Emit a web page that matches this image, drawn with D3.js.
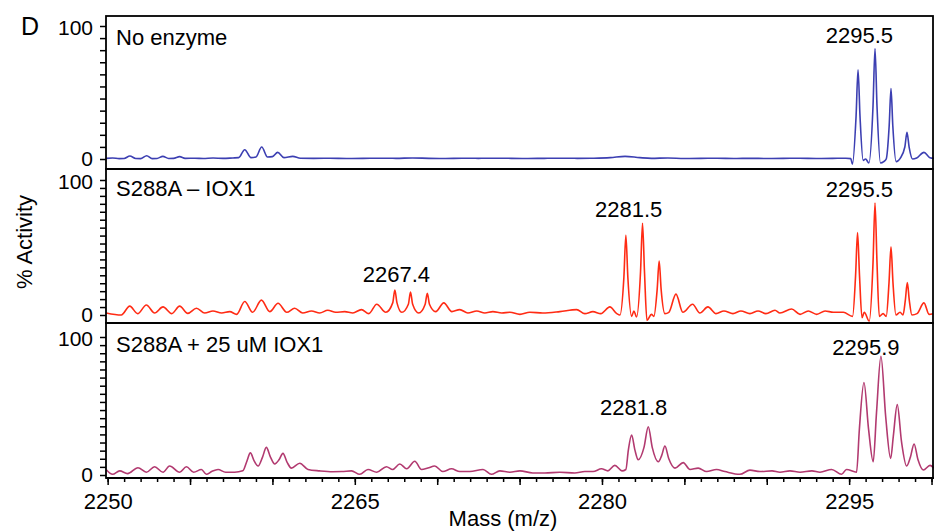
<!DOCTYPE html>
<html>
<head>
<meta charset="utf-8">
<script src="https://cdnjs.cloudflare.com/ajax/libs/d3/7.8.5/d3.min.js"></script>
<style>
  body { margin: 0; background: #fff; }
  svg { font-family: "Liberation Sans", Arial, sans-serif; }
</style>
</head>
<body>
<div id="chart"></div>
<script>
// spectra: [mass, % activity]
var noEnzyme = [
  [2249.9, 0.5], [2250.3, 0.8], [2250.7, 0.3], [2251.0, 0.4], [2251.35, 2.2], [2251.7, 0.4],
  [2252.0, 0.3], [2252.37, 2.5], [2252.7, 0.3], [2253.0, 0.4], [2253.35, 2.0], [2253.7, 0.4],
  [2254.0, 0.5], [2254.37, 1.8], [2254.7, 0.5], [2255.3, 0.6], [2255.8, 0.4], [2256.4, 0.7],
  [2257.0, 0.5], [2257.6, 0.8], [2257.95, 1.0], [2258.32, 7.0], [2258.7, 1.0], [2259.0, 1.5],
  [2259.35, 9.0], [2259.7, 1.5], [2260.0, 1.8], [2260.32, 5.0], [2260.7, 1.0], [2261.23, 2.0],
  [2261.7, 0.6], [2262.5, 0.5], [2263.5, 0.6], [2264.5, 0.4], [2265.5, 0.5], [2266.5, 0.6],
  [2267.5, 0.5], [2268.5, 0.8], [2269.5, 0.5], [2270.5, 0.4], [2271.5, 0.6], [2272.5, 0.5],
  [2273.5, 0.6], [2274.5, 0.5], [2275.5, 0.4], [2276.5, 0.5], [2277.5, 0.6], [2278.5, 0.5],
  [2279.5, 0.6], [2280.5, 1.0], [2281.4, 2.0], [2282.3, 1.0], [2283.0, 0.5], [2284.0, 0.8],
  [2285.0, 0.4], [2286.0, 0.5], [2287.0, 0.6], [2288.0, 0.4], [2289.0, 0.5], [2290.0, 0.4],
  [2291.0, 0.5], [2292.0, 0.6], [2293.0, 0.4], [2294.0, 0.5], [2294.8, 0.6], [2295.1, 0.3],
  [2295.2, -4], [2295.42, 32], [2295.54, 67], [2295.66, 32], [2295.85, -1], [2296.0, 0],
  [2296.2, -3], [2296.45, 40], [2296.57, 83], [2296.69, 40], [2296.9, -3], [2297.1, -2],
  [2297.25, 0], [2297.43, 25], [2297.54, 53], [2297.65, 25], [2297.85, -2], [2298.1, 0.5],
  [2298.38, 9], [2298.51, 20], [2298.64, 9], [2298.85, 0], [2299.1, 0.8], [2299.54, 5],
  [2299.9, 1], [2300.15, 0.5]
];

var minusIOX1 = [
  [2249.92, 1.5], [2250.83, 0], [2251.34, 6.6], [2251.82, 1], [2252.35, 7.4], [2252.85, 1.5],
  [2253.36, 6], [2253.89, 1], [2254.37, 6.6], [2254.86, 1.2], [2255.39, 5], [2255.89, 1.5],
  [2256.39, 3], [2256.92, 1.5], [2257.41, 2.5], [2257.83, 0.5], [2258.32, 10], [2258.8, 2],
  [2259.33, 11], [2259.84, 2.5], [2260.34, 8.7], [2260.87, 2], [2261.35, 5], [2261.84, 1.5],
  [2262.37, 3], [2262.87, 1.5], [2263.36, 3.5], [2263.84, 2], [2264.39, 2.5], [2264.88, 1.5],
  [2265.4, 4], [2265.85, 1], [2266.33, 8], [2266.88, 2], [2267.3, 9], [2267.43, 18.5],
  [2267.56, 9], [2267.85, 2], [2268.25, 8], [2268.38, 17], [2268.51, 8], [2268.88, 1.5],
  [2269.27, 8], [2269.4, 16], [2269.53, 8], [2269.91, 2.5], [2270.4, 9], [2270.89, 2.5],
  [2271.37, 4], [2271.86, 1.5], [2272.4, 3], [2272.89, 1.5], [2273.38, 2.5], [2273.92, 1.5],
  [2274.41, 2], [2275.02, 0.5], [2275.62, 2], [2276.41, 1.5], [2277.44, 2.5], [2278.46, 4],
  [2278.96, 1], [2279.45, 2.5], [2279.93, 1], [2280.48, 6], [2280.9, 1], [2281.09, 0],
  [2281.33, 28], [2281.45, 59], [2281.57, 28], [2281.8, -1], [2281.94, 3], [2282.1, -1.5],
  [2282.34, 32], [2282.46, 68], [2282.58, 32], [2282.73, -4], [2283.0, 0.5], [2283.15, -1],
  [2283.35, 19], [2283.47, 40], [2283.59, 19], [2283.82, 1], [2284.06, 2], [2284.49, 15.5],
  [2284.91, 2], [2285.5, 8], [2285.94, 1.5], [2286.43, 6], [2286.92, 1], [2287.4, 3],
  [2287.95, 1], [2288.43, 3], [2288.98, 1], [2289.47, 3], [2289.95, 1], [2290.5, 3.5],
  [2290.8, 1.5], [2291.51, 4.5], [2292.02, 0.5], [2292.52, 3], [2293.03, 0.5], [2293.54, 3],
  [2294.04, 2], [2294.65, 2], [2295.21, -1], [2295.39, 29], [2295.51, 61], [2295.63, 29],
  [2295.78, -2], [2295.92, 2], [2296.22, -4.5], [2296.45, 39], [2296.57, 83], [2296.69, 39],
  [2296.83, -1], [2297.06, 1], [2297.25, -1], [2297.42, 24], [2297.54, 50.6], [2297.66, 24],
  [2297.84, 0], [2298.09, 2], [2298.27, 0], [2298.41, 11], [2298.53, 24], [2298.65, 11],
  [2298.81, 0], [2299.12, 1], [2299.54, 9], [2299.85, 0.5], [2300.09, 1]
];

var plusIOX1 = [
  [2249.92, 3.8], [2250.3, 0.5], [2250.73, 3], [2251.21, 1], [2251.84, 5.3], [2252.35, 2],
  [2252.85, 6], [2253.36, 2], [2253.76, 6.5], [2254.37, 2], [2254.78, 6], [2255.22, 2],
  [2255.69, 4], [2255.99, 0.5], [2256.31, 2.5], [2256.7, 4], [2257.16, 2], [2257.71, 2],
  [2258.2, 3], [2258.45, 10], [2258.66, 16], [2258.9, 10], [2259.13, 6.5], [2259.4, 13],
  [2259.63, 20], [2259.88, 13], [2260.14, 8], [2260.4, 11], [2260.64, 15.7], [2260.9, 9],
  [2261.15, 5], [2261.66, 8.5], [2262.16, 4], [2262.87, 3], [2263.66, 2.4], [2264.21, 2.5],
  [2264.8, 3], [2265.3, 0.5], [2265.8, 4], [2266.33, 2], [2266.92, 6], [2267.3, 4],
  [2267.73, 8], [2268.15, 4.5], [2268.64, 10], [2269.05, 4], [2269.43, 5], [2269.85, 6.5],
  [2270.34, 2.5], [2270.87, 4.5], [2271.37, 2.5], [2271.98, 2.5], [2272.78, 4], [2273.29, 0.5],
  [2273.8, 3], [2274.41, 2], [2275.02, 3], [2275.8, 1.5], [2276.53, 1.5], [2277.44, 2],
  [2278.35, 1.5], [2278.96, 2.5], [2279.46, 2.5], [2279.97, 4.5], [2280.36, 3], [2280.78, 7],
  [2281.21, 3], [2281.45, 4], [2281.6, 18], [2281.8, 29], [2282.0, 18], [2282.2, 11],
  [2282.55, 20], [2282.81, 35], [2283.05, 20], [2283.42, 9.6], [2283.62, 14], [2283.82, 21],
  [2284.05, 12], [2284.43, 5], [2284.93, 9], [2285.34, 4], [2285.84, 5], [2286.35, 2.5],
  [2286.95, 4], [2287.46, 2.5], [2288.37, 0.5], [2288.98, 3.5], [2289.59, 2.5], [2290.32, 3],
  [2290.8, 2], [2291.41, 3], [2292.02, 2], [2292.74, 3], [2293.23, 2], [2293.94, 4],
  [2294.54, 0.5], [2294.84, 4], [2295.45, 2], [2295.62, 33], [2295.9, 67], [2296.18, 33],
  [2296.46, 9.6], [2296.66, 45], [2296.93, 86], [2297.22, 42], [2297.52, 12], [2297.68, 28],
  [2297.92, 51], [2298.18, 24], [2298.49, 6.5], [2298.72, 13], [2298.94, 22.5], [2299.18, 11],
  [2299.5, 3.6], [2299.91, 7], [2300.15, 5]
];

var panelNames  = ['No enzyme', 'S288A \u2013 IOX1', 'S288A + 25 uM IOX1'];
var panelColors = ['#3c3fb2', '#ff2b14', '#b23a70'];
var panelSeries = [noEnzyme, minusIOX1, plusIOX1];
var peakLabels  = [[2295.5], [2267.4, 2281.5, 2295.5], [2281.8, 2295.9]];
var yTickCounts = [11, 17, 17];
var yLabels     = [0, 100];
var xLabels     = [2250, 2265, 2280, 2295];

var width = 935, height = 532,
    fontSize = '22px';

var svg = d3.select('#chart')
  .append('svg')
  .attr('width', width)
  .attr('height', height);

var x = d3.scaleLinear().domain([2249.9, 2300.15]).range([106, 934]);

// frame top/bottom and y range for each panel
var frames = [[16, 169], [169, 323], [323, 478]];
var yRanges = [[159, 26], [315, 180], [475, 337]];
// gap between a cluster's tallest peak and its label
var peakGaps = [[6], [8, 6, 6], [12, 1]];

var line = d3.line()
  .x(function(d) { return x(d[0]); })
  .curve(d3.curveMonotoneX);

panelSeries.forEach(function(data, i) {
  var y = d3.scaleLinear().domain([0, 100]).range(yRanges[i]);
  var g = svg.append('g');

  g.append('clipPath').attr('id', 'clip' + i)
    .append('rect')
    .attr('x', x.range()[0]).attr('y', frames[i][0])
    .attr('width', x.range()[1] - x.range()[0])
    .attr('height', frames[i][1] - frames[i][0]);

  g.append('path')
    .datum(data)
    .attr('clip-path', 'url(#clip' + i + ')')
    .attr('fill', 'none')
    .attr('stroke', panelColors[i])
    .attr('stroke-width', 1.6)
    .attr('stroke-linejoin', 'round')
    .attr('d', line.y(function(d) { return y(d[1]); }));

  g.append('rect')
    .attr('x', x.range()[0]).attr('y', frames[i][0])
    .attr('width', x.range()[1] - x.range()[0] - 1)
    .attr('height', frames[i][1] - frames[i][0])
    .attr('fill', 'none')
    .attr('stroke', '#000')
    .attr('stroke-width', 1.8);

  // y axis: evenly spaced minor ticks, labels only at 0 and 100
  var n = yTickCounts[i];
  var yAxis = d3.axisLeft(y)
    .tickValues(d3.range(n + 1).map(function(k) { return k * 100 / n; }))
    .tickSize(6)
    .tickFormat(function(d) { return yLabels.indexOf(Math.round(d * 1000) / 1000) >= 0 ? d : ''; });

  var ya = g.append('g')
    .attr('transform', 'translate(' + x.range()[0] + ',0)')
    .call(yAxis);
  ya.select('.domain').remove();
  ya.selectAll('line').attr('stroke', '#000').attr('stroke-width', 1.5);
  ya.selectAll('text')
    .attr('x', -13)
    .attr('dy', function(d) { return d === 0 ? '0.3em' : '0.4em'; })
    .style('font-size', '21px')
    .attr('fill', '#000');

  g.append('text')
    .attr('x', 116)
    .attr('y', frames[i][0] + [29, 27, 29][i])
    .style('font-size', fontSize)
    .text(panelNames[i]);

  g.selectAll('.peak')
    .data(peakLabels[i])
    .enter().append('text')
    .attr('class', 'peak')
    .attr('x', function(d) { return x(d) + 2; })
    .attr('y', function(d, j) {
      var top = d3.max(data, function(p) { return (p[0] > d - 0.8 && p[0] < d + 1.8) ? p[1] : -10; });
      return y(top) - peakGaps[i][j];
    })
    .attr('text-anchor', 'middle')
    .style('font-size', fontSize)
    .text(function(d) { return d.toFixed(1); });
});

// x axis below the last panel
var xa = svg.append('g').attr('transform', 'translate(0,478)');
xa.append('g')
  .call(d3.axisBottom(x).tickValues(d3.range(2250, 2301, 1)).tickSize(4).tickFormat(''))
  .call(function(s) { s.select('.domain').remove(); });
xa.append('g')
  .call(d3.axisBottom(x).tickValues(d3.range(2250, 2301, 5)).tickSize(7)
    .tickFormat(function(d) { return xLabels.indexOf(d) >= 0 ? d : ''; }))
  .call(function(s) { s.select('.domain').remove(); });
xa.selectAll('line').attr('stroke', '#000').attr('stroke-width', 1.5);
xa.selectAll('text')
  .attr('y', 15)
  .style('font-size', fontSize)
  .attr('fill', '#000');
xa.append('line')
  .attr('x1', 106).attr('x2', 934)
  .attr('stroke', '#000').attr('stroke-width', 1.8);

svg.append('text')
  .attr('x', 503).attr('y', 526)
  .attr('text-anchor', 'middle')
  .style('font-size', fontSize)
  .text('Mass (m/z)');

svg.append('text')
  .attr('transform', 'translate(32,242) rotate(-90)')
  .attr('text-anchor', 'middle')
  .style('font-size', fontSize)
  .text('% Activity');

svg.append('text')
  .attr('x', 21).attr('y', 35)
  .style('font-size', '25px')
  .text('D');
</script>
</body>
</html>
